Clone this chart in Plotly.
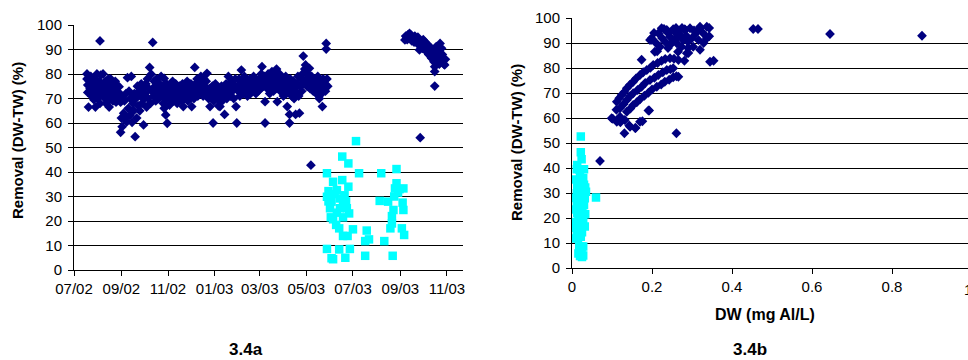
import pandas as pd
import plotly.graph_objects as go

START = pd.Timestamp("2002-07-01")

# Raw-water removal samples: (days since 1 July 2002, removal DW-TW %)
summer_2002 = [
    (17, 80), (17, 78), (18, 75.5), (18, 72.5), (19, 66.5), (20, 77), (21, 74), (22, 79),
    (23, 71), (24, 76), (25, 73), (26, 69.5), (27, 78), (28, 66.5), (28, 75), (29, 72),
    (30, 80), (31, 70), (32, 74), (33, 77), (34, 93.5), (34, 68), (35, 79.5), (36, 72),
    (37, 75), (38, 80), (39, 70.5), (40, 73), (41, 77), (42, 68), (43, 75), (44, 71),
    (45, 78), (46, 66.5), (46, 74), (47, 70), (48, 78), (49, 72), (50, 76), (51, 69),
    (52, 74), (53, 71), (54, 77), (55, 68.5), (56, 73), (57, 75), (58, 70), (59, 74.8),
    (60, 72), (61, 68.5),
]
autumn_2002 = [
    (61, 56.2), (62, 62), (63, 58.5), (64, 70), (65, 64), (66, 69), (67, 62), (68, 72),
    (69, 60.5), (70, 78.5), (71, 66), (72, 73), (73, 63), (74, 70), (75, 79), (76, 60.3),
    (77, 68), (78, 65), (79, 72), (80, 54.4), (81, 70), (82, 62), (83, 75), (84, 67),
    (85, 73), (86, 65), (87, 71), (88, 76), (89, 68), (90, 74), (91, 59.2), (92, 70),
    (93, 72), (94, 76), (95, 66.5), (96, 78), (97, 70), (98, 74), (99, 82.7), (100, 68),
    (101, 79.9), (102, 73), (103, 92.9), (104, 71), (105, 77), (106, 75), (107, 69),
    (108, 78), (109, 72), (110, 74), (111, 70), (112, 76), (113, 73), (114, 79), (115, 71),
    (116, 75), (117, 68), (118, 78.2), (118, 66), (119, 73), (120, 63.3), (121, 76),
    (122, 59.9), (122, 70), (123, 74),
]
winter_2002 = [
    (124, 72), (125, 67.3), (126, 75), (127, 70), (128, 73), (129, 77), (130, 69), (131, 74),
    (132, 71), (133, 76), (134, 72), (135, 68), (136, 74), (137, 70), (138, 75), (139, 73),
    (140, 71), (141, 69), (142, 76), (143, 66.7), (144, 73), (145, 70), (146, 74), (147, 72),
    (148, 77), (149, 69), (150, 75), (151, 71), (152, 73), (153, 76), (154, 66.7), (155, 72),
    (156, 74), (157, 70), (158, 82.7), (159, 76), (160, 73), (161, 78), (162, 71), (163, 75),
    (164, 77), (165, 73), (166, 79), (167, 74), (168, 76), (169, 71), (170, 78), (171, 75),
    (172, 73), (173, 77), (174, 80.3), (175, 72), (176, 70), (177, 74), (178, 66.7),
    (179, 73), (180, 71), (181, 75), (182, 60), (183, 69), (184, 73),
]
spring_2003 = [
    (185, 76), (186, 71), (187, 74), (188, 70), (189, 67), (190, 73), (191, 66.7), (192, 72),
    (193, 75), (194, 69), (195, 74), (196, 71), (197, 63.5), (198, 73), (199, 76), (200, 70),
    (201, 74), (202, 79), (203, 72), (204, 75), (205, 71), (206, 77), (207, 73), (208, 76),
    (209, 70), (210, 74), (211, 78), (212, 66.7), (213, 60), (214, 75), (215, 73), (216, 78),
    (217, 71), (218, 76), (219, 81.6), (220, 74), (221, 77), (222, 72), (223, 79), (224, 75),
    (225, 73), (226, 77), (227, 71), (228, 76), (229, 74), (230, 78), (231, 72), (232, 75),
    (233, 77), (234, 73), (235, 79), (236, 76), (237, 74), (238, 72), (239, 77), (240, 75),
    (241, 73), (242, 78), (243, 76), (244, 74), (245, 80), (246, 83), (247, 77), (248, 75),
    (249, 79), (250, 68.7), (250, 60), (251, 76),
    (252, 78), (253, 74), (254, 80), (255, 76), (256, 72), (257, 79), (258, 75), (259, 81),
    (260, 77), (261, 73), (262, 76), (263, 79), (264, 74), (265, 82), (266, 68.7), (267, 77),
    (268, 75), (269, 80), (270, 73), (271, 76), (272, 78), (273, 74), (274, 71), (275, 77),
    (276, 75), (277, 79), (278, 72), (279, 66.7), (280, 74), (281, 76), (282, 63.5), (282, 60),
    (283, 78), (284, 73), (285, 71), (286, 75), (287, 77), (288, 70), (289, 74), (290, 63.5),
    (291, 72), (292, 76), (293, 79), (294, 71), (295, 64), (296, 75), (297, 78), (298, 73),
    (299, 80), (300, 87.3), (301, 76), (302, 82), (303, 83.7), (304, 78), (305, 75), (306, 80),
    (307, 77), (308, 82.3), (309, 74), (310, 42.8), (311, 79), (312, 76), (313, 73), (314, 78),
    (315, 75), (316, 77), (317, 72), (318, 76), (319, 79), (320, 74), (321, 70), (322, 77),
    (323, 75), (324, 72), (325, 66.7), (326, 78), (327, 74), (328, 76), (329, 73), (330, 92.5),
    (330, 90.2), (331, 78), (332, 75),
]
autumn_2003 = [
    (433, 93.9), (434, 95.5), (435, 95.2), (436, 94), (437, 96), (438, 95), (439, 96.6),
    (440, 94.5), (441, 95.8), (442, 93.5), (443, 95), (444, 94.6), (445, 93), (446, 95.5),
    (447, 94), (448, 93.9), (449, 92.5), (450, 95), (451, 93), (452, 89.8), (453, 91.5),
    (453, 54), (454, 93), (455, 92.5), (456, 90.5), (457, 94), (458, 91), (459, 93.2),
    (460, 89.5), (461, 91.8), (462, 90), (463, 92), (464, 88), (465, 91), (466, 89.8),
    (467, 87), (468, 86.4), (469, 90), (470, 88.4), (471, 85), (472, 83), (472, 81),
    (472, 75.1), (473, 87.8), (474, 91.2), (475, 88), (476, 86), (477, 90), (478, 84),
    (479, 92.5), (479, 87.8), (480, 85.5), (481, 90.5), (482, 88), (483, 86.4), (484, 84),
    (485, 83.7), (486, 86),
]

# Treated-water samples: (days since 1 July 2002, removal %, DW mg Al/L)
treated_samples = [
    (369, 52.6, 0.022), (351, 46.3, 0.022), (359, 43.5, 0.024), (331, 39.5, 0.030),
    (373, 39.5, 0.018), (402, 39.5, 0.012), (422, 41.2, 0.013), (339, 36.0, 0.028),
    (351, 36.7, 0.020), (359, 34.0, 0.025), (333, 32.2, 0.033), (344, 32.6, 0.015),
    (422, 35.4, 0.010), (420, 33.3, 0.022), (431, 33.3, 0.030), (424, 31.6, 0.018),
    (331, 29.9, 0.012), (348, 29.2, 0.025), (337, 27.9, 0.032), (352, 27.2, 0.020),
    (400, 28.2, 0.060), (411, 27.9, 0.015), (430, 27.5, 0.028), (335, 25.2, 0.022),
    (348, 25.2, 0.012), (357, 25.2, 0.030), (418, 24.5, 0.018), (431, 24.5, 0.026),
    (344, 23.4, 0.004), (360, 23.1, 0.020), (416, 22.0, 0.013), (336, 21.5, 0.033),
    (352, 21.5, 0.024), (339, 20.7, 0.016), (416, 19.0, 0.028), (343, 18.4, 0.010),
    (347, 17.0, 0.022), (365, 16.6, 0.032), (414, 17.0, 0.015), (429, 17.0, 0.026),
    (383, 16.1, 0.008), (352, 13.9, 0.018), (358, 13.9, 0.012), (432, 14.3, 0.025),
    (381, 11.8, 0.015), (386, 12.5, 0.022), (406, 11.8, 0.010), (331, 8.6, 0.028),
    (347, 8.4, 0.018), (361, 8.6, 0.024), (337, 4.8, 0.020), (355, 5.0, 0.028),
    (381, 5.8, 0.016), (417, 5.8, 0.024), (339, 4.4, 0.025), (354, 30.5, 0.035),
    (356, 28.0, 0.008), (341, 31.0, 0.027), (419, 30.0, 0.020), (426, 33.0, 0.013),
    (333, 28.0, 0.030),
]

# Raw-water removal against dosed aluminium: (DW mg Al/L, removal %)
dw_outliers = [
    (0.875, 92.9), (0.645, 93.6), (0.453, 95.6), (0.465, 95.6), (0.354, 82.9),
    (0.070, 42.8), (0.261, 53.9), (0.345, 82.5),
]
dw_low = [
    (0.131, 53.9), (0.102, 59.7), (0.121, 58.3), (0.111, 63.3), (0.099, 59.9), (0.112, 58.5),
    (0.145, 56.5), (0.158, 56.0), (0.170, 58.5), (0.191, 63.0), (0.120, 60.5), (0.132, 59.2),
    (0.176, 58.7), (0.159, 56.0), (0.143, 57.0), (0.193, 63.0),
]
dw_band_upper = [
    (0.112, 66.5), (0.118, 67.9), (0.124, 69.2), (0.131, 70.4), (0.137, 71.9), (0.145, 73.3),
    (0.153, 74.5), (0.160, 75.8), (0.170, 77.2), (0.178, 78.3), (0.187, 79.2), (0.196, 80.1),
    (0.203, 81.2), (0.214, 82.0), (0.224, 82.9), (0.233, 83.6), (0.245, 83.9), (0.255, 83.7),
    (0.266, 83.2), (0.174, 83.3),
]
dw_band_middle = [
    (0.120, 63.9), (0.129, 65.5), (0.137, 67.2), (0.145, 68.7), (0.153, 69.9), (0.164, 71.2),
    (0.174, 72.5), (0.183, 74.0), (0.195, 75.2), (0.206, 76.1), (0.216, 77.2), (0.227, 78.3),
    (0.237, 79.2), (0.246, 79.5), (0.253, 79.9),
]
dw_band_lower = [
    (0.137, 62.5), (0.146, 63.8), (0.153, 65.2), (0.162, 66.3), (0.170, 67.5), (0.181, 68.9),
    (0.191, 70.1), (0.200, 71.4), (0.212, 72.5), (0.223, 73.4), (0.232, 74.5), (0.243, 75.3),
    (0.253, 76.3), (0.266, 76.5), (0.261, 76.7),
]
dw_high = [
    (0.224, 95.9), (0.199, 91.9), (0.207, 86.5), (0.216, 93.9), (0.237, 95.2), (0.245, 92.5),
    (0.257, 94.5), (0.270, 93.2), (0.283, 95.2), (0.262, 89.9), (0.274, 88.5), (0.287, 85.9),
    (0.233, 90.5), (0.253, 91.2), (0.278, 91.2), (0.320, 96.5), (0.337, 96.5), (0.328, 93.9),
    (0.316, 91.2), (0.337, 91.9), (0.303, 88.5), (0.295, 95.9), (0.220, 88.5), (0.195, 91.2),
    (0.199, 91.3), (0.213, 86.7), (0.230, 95.6), (0.253, 95.5), (0.270, 95.0), (0.282, 95.5),
    (0.320, 96.0), (0.343, 96.0), (0.320, 87.3), (0.329, 90.0), (0.343, 92.7), (0.291, 86.0),
    (0.281, 82.9), (0.205, 94.0), (0.210, 90.0), (0.225, 92.0), (0.240, 94.0), (0.250, 90.0),
    (0.260, 96.0), (0.265, 92.5), (0.275, 96.0), (0.285, 93.0), (0.290, 90.5), (0.300, 92.0),
    (0.310, 94.0), (0.240, 88.0), (0.265, 86.5), (0.290, 88.0), (0.305, 95.0),
]

month_ticks = pd.date_range("2002-07-01", "2003-11-01", freq="2MS")
DATE_END = "2003-11-22"

NAVY = "#000080"
CYAN = "#00FFFF"
FONT = "Arial, 'Liberation Sans', sans-serif"

raw_by_date = summer_2002 + autumn_2002 + winter_2002 + spring_2003 + autumn_2003
raw_dates = [START + pd.Timedelta(days=d) for d, _ in raw_by_date]
raw_removal = [v for _, v in raw_by_date]

treated_dates = [START + pd.Timedelta(days=d) for d, _, _ in treated_samples]
treated_removal = [v for _, v, _ in treated_samples]
treated_dw = [c for _, _, c in treated_samples]

raw_by_dw = dw_outliers + dw_low + dw_band_upper + dw_band_middle + dw_band_lower + dw_high
raw_dw = [c for c, _ in raw_by_dw]
raw_dw_removal = [v for _, v in raw_by_dw]

diamond = dict(symbol="diamond", size=7.5, color=NAVY, line=dict(width=0))
square = dict(symbol="square", size=8.5, color=CYAN, line=dict(width=0))

fig = go.Figure()
fig.add_trace(go.Scatter(x=raw_dates, y=raw_removal, mode="markers", marker=diamond,
                         xaxis="x", yaxis="y"))
fig.add_trace(go.Scatter(x=treated_dates, y=treated_removal, mode="markers", marker=square,
                         xaxis="x", yaxis="y"))
fig.add_trace(go.Scatter(x=raw_dw, y=raw_dw_removal, mode="markers", marker=diamond,
                         xaxis="x2", yaxis="y2"))
fig.add_trace(go.Scatter(x=treated_dw, y=treated_removal, mode="markers", marker=square,
                         xaxis="x2", yaxis="y2"))

tick_font = dict(family=FONT, size=15, color="black")
common_x = dict(ticks="outside", ticklen=5, tickcolor="black", showline=True,
                linecolor="black", linewidth=1, showgrid=False, zeroline=False,
                tickfont=tick_font, ticklabelstandoff=0, automargin=False)
common_y = dict(range=[0, 100], dtick=10, ticks="outside", ticklen=5, tickcolor="black",
                showline=True, linecolor="black", linewidth=1, showgrid=True,
                gridcolor="black", gridwidth=1, zeroline=False, tickfont=tick_font,
                ticklabelstandoff=3, automargin=False)

W, H = 968, 360
fig.update_layout(
    width=W, height=H,
    margin=dict(l=0, r=0, t=0, b=0, autoexpand=False),
    paper_bgcolor="white", plot_bgcolor="white",
    showlegend=False,
    xaxis=dict(domain=[74 / W, 463 / W], type="date", range=["2002-07-01", DATE_END],
               tickvals=month_ticks, tickformat="%m/%y", anchor="y", **common_x),
    yaxis=dict(domain=[1 - 270 / H, 1 - 25 / H], anchor="x", **common_y),
    xaxis2=dict(domain=[572 / W, 1], range=[0, 0.99], tickvals=[0, 0.2, 0.4, 0.6, 0.8],
                anchor="y2", **common_x),
    yaxis2=dict(domain=[1 - 268 / H, 1 - 18 / H], anchor="x2", **common_y),
)

title_font = dict(family=FONT, size=15, color="black")
xtitle_font = dict(family=FONT, size=16, color="black")
caption_font = dict(family=FONT, size=17, color="black")
notes = [
    dict(text="<b>Removal (DW-TW) (%)</b>", x=18 / W, y=1 - 141 / H, textangle=-90, font=title_font),
    dict(text="<b>Removal (DW-TW) (%)</b>", x=517 / W, y=1 - 143 / H, textangle=-90, font=title_font),
    dict(text="<b>DW (mg Al/L)</b>", x=765 / W, y=1 - 314 / H, font=xtitle_font),
    dict(text="<b>3.4a</b>", x=246 / W, y=1 - 349 / H, font=caption_font),
    dict(text="<b>3.4b</b>", x=750 / W, y=1 - 349 / H, font=caption_font),
    dict(text="1", x=968 / W, y=1 - 289 / H, font=tick_font),
]
for n in notes:
    fig.add_annotation(xref="paper", yref="paper", showarrow=False,
                       xanchor="center", yanchor="middle", **n)

fig.write_html("out.html")
